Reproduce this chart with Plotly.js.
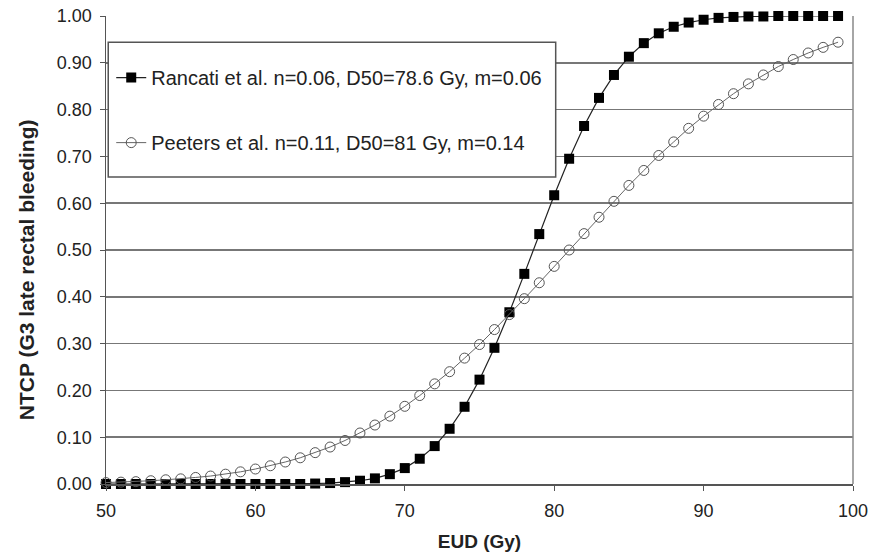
<!DOCTYPE html>
<html>
<head>
<meta charset="utf-8">
<script src="https://cdn.plot.ly/plotly-3.0.1.min.js"></script>
<style>html,body{margin:0;padding:0;background:#fff;}#chart{width:872px;height:556px;}</style>
</head>
<body>
<div id="chart"></div>
<script>
const eud = [50,51,52,53,54,55,56,57,58,59,60,61,62,63,64,65,66,67,68,69,70,71,72,73,74,75,76,77,78,79,80,81,82,83,84,85,86,87,88,89,90,91,92,93,94,95,96,97,98,99];
const rancati = [0.000,0.000,0.000,0.000,0.000,0.000,0.000,0.000,0.000,0.000,0.000,0.000,0.000,0.000,0.001,0.002,0.004,0.007,0.012,0.021,0.034,0.054,0.081,0.118,0.165,0.223,0.291,0.367,0.449,0.534,0.617,0.695,0.765,0.825,0.874,0.913,0.942,0.963,0.977,0.986,0.992,0.996,0.998,0.999,0.999,1.000,1.000,1.000,1.000,1.000];
const peeters = [0.003,0.004,0.005,0.007,0.009,0.011,0.014,0.017,0.021,0.026,0.032,0.039,0.047,0.056,0.067,0.079,0.093,0.109,0.126,0.145,0.166,0.189,0.214,0.240,0.269,0.298,0.330,0.362,0.396,0.430,0.465,0.500,0.535,0.570,0.604,0.638,0.670,0.702,0.731,0.760,0.786,0.811,0.834,0.855,0.874,0.892,0.907,0.921,0.933,0.944];
const seriesNames = ["Rancati et al. n=0.06, D50=78.6 Gy, m=0.06", "Peeters et al. n=0.11, D50=81 Gy, m=0.14"];
const xTicks = [50,60,70,80,90,100];
const yTicks = [0,0.1,0.2,0.3,0.4,0.5,0.6,0.7,0.8,0.9,1.0];
const xTitle = 'EUD (Gy)';
const yTitle = 'NTCP (G3 late rectal bleeding)';

const fontFam = "Liberation Sans, Arial, sans-serif";
const traces = [
  {x: eud, y: rancati, name: seriesNames[0], type: 'scatter', mode: 'lines+markers',
   legendgroup: 'a', cliponaxis: false,
   line: {color: '#222', width: 1.2},
   marker: {symbol: 'square', size: 10, color: '#000'}},
  {x: eud, y: peeters, name: seriesNames[1], type: 'scatter', mode: 'lines+markers',
   legendgroup: 'b', cliponaxis: false,
   line: {color: '#666', width: 1},
   marker: {symbol: 'circle-open', size: 10, color: '#555', line: {width: 1, color: '#555'}}}
];
const layout = {
  width: 872, height: 556,
  margin: {l: 106, r: 19, t: 16, b: 72},
  paper_bgcolor: '#fff', plot_bgcolor: '#fff',
  font: {family: fontFam, size: 18, color: '#222'},
  showlegend: true,
  legend: {x: 0.007, y: 0.91, xanchor: 'left', yanchor: 'top',
    bgcolor: 'rgba(0,0,0,0)', borderwidth: 0,
    traceorder: 'grouped', tracegroupgap: 36, itemwidth: 30,
    font: {family: fontFam, size: 20, color: '#222'}},
  xaxis: {range: [50, 100], tickvals: xTicks, ticks: 'outside', ticklen: 5, tickcolor: '#555',
    showline: true, linecolor: '#555', linewidth: 1.5, showgrid: false, zeroline: false,
    ticklabelstandoff: 5,
    tickfont: {family: fontFam, size: 18, color: '#222'},
    title: {text: xTitle, font: {family: fontFam, size: 19, color: '#222', weight: 'bold'}, standoff: 14}},
  yaxis: {range: [0, 1.0], tickvals: yTicks, tickformat: '.2f', ticks: 'outside', ticklen: 5, tickcolor: '#555',
    showline: true, linecolor: '#555', linewidth: 1.5, showgrid: true, gridcolor: '#777', gridwidth: 1.5, zeroline: false,
    ticklabelstandoff: 4,
    tickfont: {family: fontFam, size: 18, color: '#222'}},
  annotations: [
    {text: yTitle, xref: 'paper', yref: 'paper', x: -0.107, y: 0.457, xanchor: 'center', yanchor: 'middle',
     textangle: -90, showarrow: false,
     font: {family: fontFam, size: 21, color: '#222', weight: 'bold'}}
  ],
  shapes: [
    {type: 'line', xref: 'paper', yref: 'paper', x0: 1, x1: 1, y0: 0, y1: 1, line: {color: '#888', width: 1.5}},
    {type: 'rect', xref: 'paper', yref: 'paper', x0: 0.003, x1: 0.602, y0: 0.656, y1: 0.944,
     fillcolor: '#fff', line: {color: '#555', width: 1.5}, layer: 'above'}
  ]
};
Plotly.newPlot('chart', traces, layout, {displayModeBar: false, staticPlot: true});
</script>
</body>
</html>
